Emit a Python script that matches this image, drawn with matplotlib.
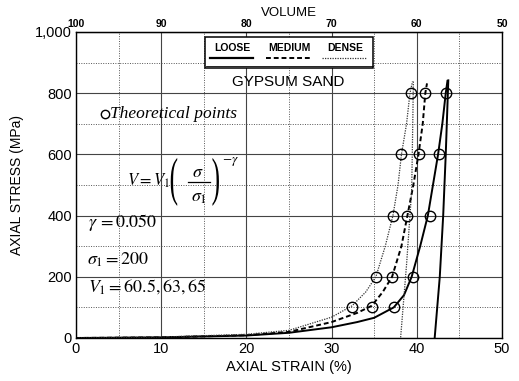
import numpy as np
import matplotlib
matplotlib.use('Agg')
import matplotlib.pyplot as plt
from matplotlib.ticker import FuncFormatter, MultipleLocator
from matplotlib.patches import Rectangle, PathPatch
from matplotlib.lines import Line2D
from matplotlib.textpath import TextPath
from matplotlib.font_manager import FontProperties
from matplotlib.transforms import Affine2D, ScaledTranslation

plt.rcParams['font.family'] = ['Liberation Sans', 'DejaVu Sans']
plt.rcParams['mathtext.fontset'] = 'stix'

# loading curves (strain %, stress MPa)
loose_strain = [0, 10, 20, 25, 30, 33, 35, 37.3, 38.5, 39.4, 40.4, 41.3, 41.9, 42.5, 43.0, 43.4, 43.6]
loose_stress = [0, 2, 8, 17, 35, 52, 66, 100, 140, 200, 300, 400, 500, 600, 700, 800, 840]
medium_strain = [0, 10, 20, 25, 30, 33, 34.7, 36.0, 37.1, 38.2, 38.9, 39.6, 40.2, 40.7, 41.0, 41.2]
medium_stress = [0, 2, 9, 20, 52, 82, 105, 150, 200, 300, 400, 500, 600, 700, 800, 832]
dense_strain = [0, 10, 20, 25, 30, 32.4, 34.0, 35.2, 36.3, 37.2, 37.8, 38.2, 38.8, 39.2, 39.5]
dense_stress = [0, 3, 12, 25, 68, 105, 150, 200, 300, 400, 500, 600, 700, 800, 838]

# unloading lines
loose_unl_strain = [43.7, 43.4, 43.1, 42.7, 42.1]
loose_unl_stress = [842, 600, 400, 200, 0]
dense_unl_strain = [39.6, 39.5, 39.4, 38.8, 38.1]
dense_unl_stress = [838, 650, 480, 240, 0]

# theoretical points
theo_stress = [100, 200, 400, 600, 800]
theo_loose = [37.3, 39.5, 41.6, 42.6, 43.4]
theo_medium = [34.7, 37.1, 38.9, 40.3, 41.0]
theo_dense = [32.4, 35.2, 37.2, 38.2, 39.3]

volume_ticks = [100, 90, 80, 70, 60, 50]

fig = plt.figure(figsize=(5.19, 3.81), dpi=100)
ax = fig.add_axes([0.1464, 0.1129, 0.8208, 0.8032])

ax.set_xlim(0, 50)
ax.set_ylim(0, 1000)
ax.xaxis.set_major_locator(MultipleLocator(10))
ax.xaxis.set_minor_locator(MultipleLocator(5))
ax.yaxis.set_major_locator(MultipleLocator(200))
ax.yaxis.set_minor_locator(MultipleLocator(100))
ax.grid(which='major', color='#444444', lw=0.8, ls='-')
ax.grid(which='minor', color='#555555', lw=0.7, ls=(0, (1, 1.5)))
ax.set_axisbelow(True)
ax.yaxis.set_major_formatter(FuncFormatter(lambda v, p: '{:,.0f}'.format(v)))
ax.tick_params(which='both', length=0, labelsize=10.5, pad=3)
for s in ax.spines.values():
    s.set_color('black')
    s.set_linewidth(1.0)

ax.plot(loose_strain, loose_stress, color='black', lw=1.4)
ax.plot(loose_unl_strain, loose_unl_stress, color='black', lw=1.4)
ax.plot(medium_strain, medium_stress, color='black', lw=1.4, ls=(0, (2.5, 1.5)))
ax.plot(dense_strain, dense_stress, color='#333333', lw=0.9, ls=(0, (1, 1)))
ax.plot(dense_unl_strain, dense_unl_stress, color='#333333', lw=0.9, ls=(0, (1, 1)))

for xs in (theo_loose, theo_medium, theo_dense):
    ax.plot(xs, theo_stress, 'o', ms=7.5, mfc='none', mec='black', mew=1.0)

ax.set_xlabel('AXIAL STRAIN (%)', fontsize=10.5, labelpad=3)
ax.set_ylabel('AXIAL STRESS (MPa)', fontsize=10, labelpad=8)

sec = ax.secondary_xaxis('top', functions=(lambda x: 100 - x, lambda v: 100 - v))
sec.set_xticks(volume_ticks)
sec.tick_params(length=0, labelsize=7.5, pad=2)
for t in sec.get_xticklabels():
    t.set_fontweight('bold')
sec.set_xlabel('VOLUME', fontsize=9.5, labelpad=2)

# legend box
ax.add_patch(Rectangle((0.303, 0.882), 0.394, 0.102, transform=ax.transAxes,
                       facecolor='white', edgecolor='black', lw=1.1, zorder=5))
ax.add_line(Line2D([0.306, 0.697], [0.888, 0.888], transform=ax.transAxes,
                   color='black', lw=0.6, zorder=6))
legend_items = [('LOOSE', 0.366, (0.315, 0.415), dict(color='black', lw=1.6, ls='-')),
                ('MEDIUM', 0.502, (0.446, 0.549), dict(color='black', lw=1.4, ls=(0, (2.5, 1.5)))),
                ('DENSE', 0.631, (0.577, 0.683), dict(color='#333333', lw=0.9, ls=(0, (1, 1))))]
for name, cx, (x0, x1), style in legend_items:
    ax.text(cx, 0.948, name, transform=ax.transAxes, ha='center', va='center',
            fontsize=7.5, fontweight='bold', zorder=7)
    ax.add_line(Line2D([x0, x1], [0.916, 0.916], transform=ax.transAxes, zorder=7, **style))

ax.text(0.498, 0.837, 'GYPSUM SAND', transform=ax.transAxes, ha='center', va='center',
        fontsize=11)

ax.plot([0.068], [0.732], 'o', transform=ax.transAxes, ms=6, mfc='none', mec='black', mew=1.0)
ax.text(0.079, 0.732, 'Theoretical points', transform=ax.transAxes, ha='left', va='center',
        fontsize=12.5, family='Liberation Serif', style='italic')


# formula V = V1 (sigma/sigma1)^-gamma, placed in axes fraction
def big_paren(ch, xa, ya, w_px, h_px):
    tp = TextPath((0, 0), ch, size=10, prop=FontProperties(family='Liberation Serif'))
    bb = tp.get_extents()
    tr = (Affine2D().translate(-(bb.x0 + bb.x1) / 2, -(bb.y0 + bb.y1) / 2)
          .scale(w_px / bb.width, h_px / bb.height)
          + ScaledTranslation(xa, ya, ax.transAxes))
    ax.add_patch(PathPatch(tp, transform=tr, fc='black', ec='none', lw=0))


ax.text(0.220, 0.513, r'$V = V_1$', transform=ax.transAxes, ha='right', va='center',
        fontsize=12)
big_paren('(', 0.230, 0.510, 6.5, 48)
ax.text(0.285, 0.540, r'$\sigma$', transform=ax.transAxes, ha='center', va='center',
        fontsize=13)
ax.add_line(Line2D([0.263, 0.314], [0.510, 0.510], transform=ax.transAxes,
                   color='black', lw=0.9))
ax.text(0.288, 0.460, r'$\sigma_1$', transform=ax.transAxes, ha='center', va='center',
        fontsize=13)
big_paren(')', 0.328, 0.510, 6.5, 48)
ax.text(0.343, 0.578, r'$-\gamma$', transform=ax.transAxes, ha='left', va='center',
        fontsize=9.5)

ax.text(0.028, 0.376, r'$\gamma\,=0.050$', transform=ax.transAxes, ha='left', va='center',
        fontsize=13)
ax.text(0.026, 0.255, r'$\sigma_1=200$', transform=ax.transAxes, ha='left', va='center',
        fontsize=13)
ax.text(0.028, 0.167, r'$V_1=60.5, 63, 65$', transform=ax.transAxes, ha='left', va='center',
        fontsize=13)

fig.savefig('out.png', dpi=100)
